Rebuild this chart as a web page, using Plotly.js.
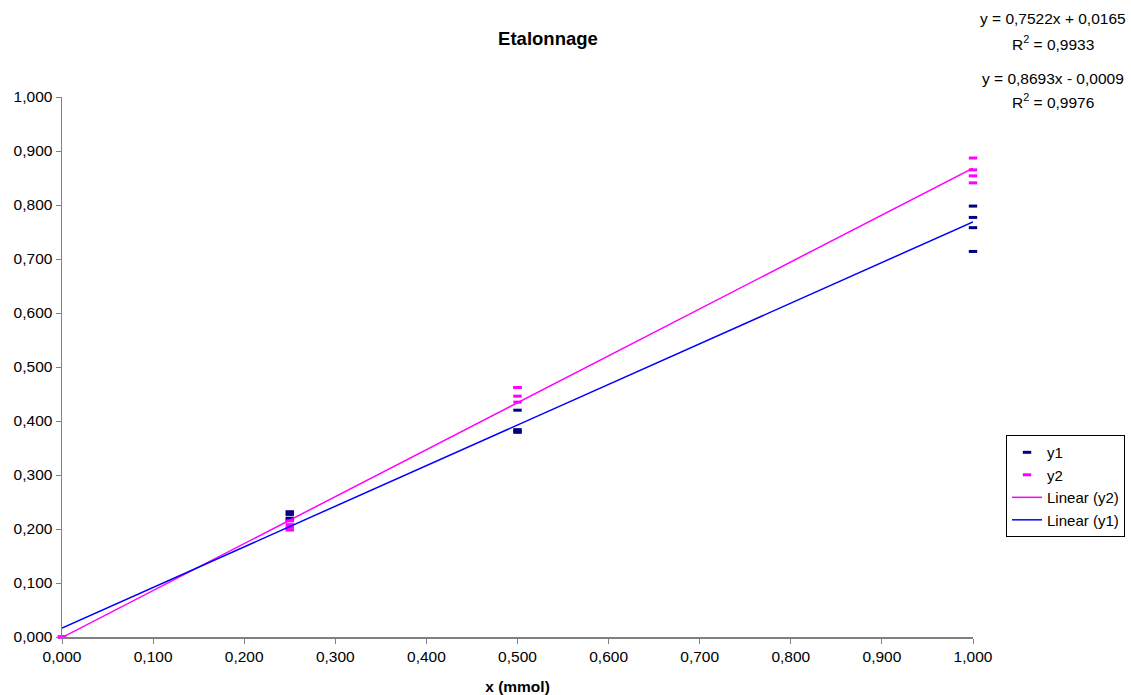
<!DOCTYPE html>
<html>
<head>
<meta charset="utf-8">
<script src="https://cdn.plot.ly/plotly-3.0.1.min.js"></script>
<style>html,body{margin:0;padding:0;background:#fff;}#chart{width:1131px;height:695px;}</style>
</head>
<body>
<div id="chart"></div>
<script>
var xValues = [0, 0.25, 0.25, 0.25, 0.25, 0.5, 0.5, 0.5, 0.5, 1, 1, 1, 1];
var y1Values = [0, 0.232, 0.227, 0.220, 0.216, 0.420, 0.384, 0.379, 0.381, 0.798, 0.777, 0.758, 0.714];
var y2Values = [0, 0.215, 0.208, 0.203, 0.198, 0.462, 0.446, 0.435, 0.462, 0.887, 0.865, 0.854, 0.841];
var fitY1 = {slope: 0.7522, intercept: 0.0165, r2: 0.9933};
var fitY2 = {slope: 0.8693, intercept: -0.0009, r2: 0.9976};
var fitRange = [0, 1];
var seriesNames = ['y1', 'y2', 'Linear (y2)', 'Linear (y1)'];

function fmt(v) { return Math.abs(v).toFixed(4).replace('.', ','); }
function eqText(f) { return 'y = ' + fmt(f.slope) + 'x ' + (f.intercept < 0 ? '- ' : '+ ') + fmt(f.intercept); }
function r2Text(f) { return 'R<sup>2</sup> = ' + fmt(f.r2); }
function lineY(f) { return fitRange.map(function (x) { return f.slope * x + f.intercept; }); }

var markerStyle = function (c) {
  return {symbol: 'line-ew', size: 6, color: c, line: {color: c, width: 3}};
};

var traces = [
  {x: xValues, y: y1Values, name: seriesNames[0], mode: 'markers', type: 'scatter', marker: markerStyle('#000080'), cliponaxis: false},
  {x: xValues, y: y2Values, name: seriesNames[1], mode: 'markers', type: 'scatter', marker: markerStyle('#FF00FF'), cliponaxis: false},
  {x: fitRange, y: lineY(fitY2), name: seriesNames[2], mode: 'lines', type: 'scatter', line: {color: '#FF00FF', width: 1.5}, cliponaxis: false},
  {x: fitRange, y: lineY(fitY1), name: seriesNames[3], mode: 'lines', type: 'scatter', line: {color: '#0000FF', width: 1.5}, cliponaxis: false}
];

var fam = 'Liberation Sans, Arial, sans-serif';
var font = {family: fam, size: 15.5, color: '#000'};
var layout = {
  width: 1131, height: 695,
  margin: {l: 62, r: 158, t: 97, b: 58, autoexpand: false},
  paper_bgcolor: '#fff', plot_bgcolor: '#fff',
  separators: ', ',
  font: font,
  showlegend: true,
  title: {text: '<b>Etalonnage</b>', x: 0.4845, xanchor: 'center', y: 0.945, yanchor: 'middle', font: {family: fam, size: 18.5, color: '#000'}},
  xaxis: {
    range: [0, 1], dtick: 0.1, tick0: 0, tickformat: '.3f', automargin: false,
    showgrid: false, zeroline: false, showline: true, linecolor: '#808080', linewidth: 1.5,
    ticks: 'outside', ticklen: 5, tickcolor: '#808080',
    tickfont: font,
    title: {text: '<b>x (mmol)</b>', font: {family: fam, size: 15.5, color: '#000'}, standoff: 18}
  },
  yaxis: {
    range: [0, 1], dtick: 0.1, tick0: 0, tickformat: '.3f', automargin: false,
    showgrid: false, zeroline: false, showline: true, linecolor: '#808080', linewidth: 1.5,
    ticks: 'outside', ticklen: 5, tickcolor: '#808080',
    tickfont: font
  },
  legend: {
    xref: 'container', yref: 'container',
    x: 0.8895, y: 0.374, xanchor: 'left', yanchor: 'top',
    bordercolor: '#000', borderwidth: 1, bgcolor: '#fff',
    font: {family: fam, size: 15, color: '#000'}, tracegroupgap: 0, itemwidth: 30
  },
  annotations: [
    {text: eqText(fitY1), x: 1.0878, y: 1.146, xref: 'paper', yref: 'paper', showarrow: false, font: font, xanchor: 'center', yanchor: 'middle'},
    {text: r2Text(fitY1), x: 1.0878, y: 1.100, xref: 'paper', yref: 'paper', showarrow: false, font: font, xanchor: 'center', yanchor: 'middle'},
    {text: eqText(fitY2), x: 1.0878, y: 1.035, xref: 'paper', yref: 'paper', showarrow: false, font: font, xanchor: 'center', yanchor: 'middle'},
    {text: r2Text(fitY2), x: 1.0878, y: 0.993, xref: 'paper', yref: 'paper', showarrow: false, font: font, xanchor: 'center', yanchor: 'middle'}
  ]
};

Plotly.newPlot('chart', traces, layout, {displayModeBar: false, staticPlot: true});
</script>
</body>
</html>
